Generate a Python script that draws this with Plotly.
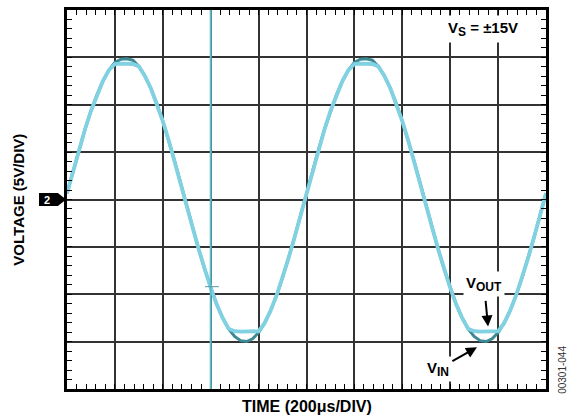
import plotly.graph_objects as go

# Scope capture: input and output of the amplifier, 200 us/div, 5 V/div
TIME_US = [
    0, 25, 50, 75, 100, 125, 150, 175, 200, 225, 250, 275, 300, 325, 350, 375,
    400, 425, 450, 475, 500, 525, 550, 575, 600, 625, 650, 675, 700, 725, 750, 775,
    800, 825, 850, 875, 900, 925, 950, 975, 1000, 1025, 1050, 1075, 1100, 1125,
    1150, 1175, 1200, 1225, 1250, 1275, 1300, 1325, 1350, 1375, 1400, 1425, 1450,
    1475, 1500, 1525, 1550, 1575, 1600, 1625, 1650, 1675, 1700, 1725, 1750, 1775,
    1800, 1825, 1850, 1875, 1900, 1925, 1950, 1975, 2000,
]

V_IN = [
    0.66, 3.00, 5.26, 7.39, 9.34, 11.06, 12.51, 13.65, 14.46, 14.80, 14.85, 14.70,
    14.05, 13.05, 11.74, 10.13, 8.27, 6.22, 4.00, 1.69, -0.66, -3.00, -5.26, -7.39,
    -9.34, -11.06, -12.51, -13.65, -14.46, -14.90, -14.99, -14.70, -14.05, -13.05,
    -11.74, -10.13, -8.27, -6.22, -4.00, -1.69, 0.66, 3.00, 5.26, 7.39, 9.34, 11.06,
    12.51, 13.65, 14.46, 14.80, 14.85, 14.70, 14.05, 13.05, 11.74, 10.13, 8.27, 6.22,
    4.00, 1.69, -0.66, -3.00, -5.26, -7.39, -9.34, -11.06, -12.51, -13.65, -14.46,
    -14.90, -14.99, -14.70, -14.05, -13.05, -11.74, -10.13, -8.27, -6.22, -4.00,
    -1.69, 0.66,
]

V_OUT = [
    0.66, 3.00, 5.26, 7.39, 9.34, 11.06, 12.51, 13.65, 14.30, 14.35, 14.35, 14.30,
    14.05, 13.05, 11.74, 10.13, 8.27, 6.22, 4.00, 1.69, -0.66, -3.00, -5.26, -7.39,
    -9.34, -11.06, -12.51, -13.65, -13.90, -13.95, -13.95, -13.90, -13.90, -13.05,
    -11.74, -10.13, -8.27, -6.22, -4.00, -1.69, 0.66, 3.00, 5.26, 7.39, 9.34, 11.06,
    12.51, 13.65, 14.30, 14.35, 14.35, 14.30, 14.05, 13.05, 11.74, 10.13, 8.27, 6.22,
    4.00, 1.69, -0.66, -3.00, -5.26, -7.39, -9.34, -11.06, -12.51, -13.65, -13.90,
    -13.95, -13.95, -13.90, -13.90, -13.05, -11.74, -10.13, -8.27, -6.22, -4.00,
    -1.69, 0.66,
]

FONT = "Liberation Sans, Arial, Helvetica, sans-serif"
GRID = "#333333"
TRACE_OUT = "#80d1e1"
TRACE_IN = "#3d8a94"
CURSOR = "#5fbccc"


def sub(text, size):
    """Subscript that keeps close to the body size, like the scope labels."""
    return f"<sub><span style='font-size:{size}px'>{text}</span></sub>"


fig = go.Figure()
fig.add_trace(go.Scatter(x=TIME_US, y=V_IN, mode="lines",
                         line=dict(color=TRACE_IN, width=3), name="V_IN"))
fig.add_trace(go.Scatter(x=TIME_US, y=V_OUT, mode="lines",
                         line=dict(color=TRACE_OUT, width=3.8), name="V_OUT"))

frame_axis = dict(
    showgrid=True, gridcolor=GRID, gridwidth=1.5,
    showline=True, linecolor="black", linewidth=2.5, mirror="allticks",
    ticks="inside", ticklen=5, tickwidth=1.2, tickcolor="black",
    showticklabels=False, zeroline=False, fixedrange=True,
)
# extra axes through the centre of the screen, for the crossing ticks
centre_axis = dict(
    anchor="free", position=0.5, showgrid=False, showline=False,
    zeroline=False, showticklabels=False, ticklen=3, tickwidth=1.2,
    tickcolor="black",
)

fig.update_layout(
    width=569, height=419,
    margin=dict(l=67, r=23, t=7, b=30),
    paper_bgcolor="white", plot_bgcolor="white",
    showlegend=False,
    font=dict(family=FONT, color="black"),
    xaxis=dict(range=[0, 2000], tick0=0, dtick=200,
               minor=dict(dtick=40, ticks="inside", ticklen=5, tickwidth=1.2,
                          tickcolor="black", showgrid=False),
               **frame_axis),
    yaxis=dict(range=[-20, 20], tick0=0, dtick=5,
               minor=dict(dtick=1, ticks="inside", ticklen=5, tickwidth=1.2,
                          tickcolor="black", showgrid=False),
               **frame_axis),
    xaxis2=dict(overlaying="x", range=[0, 2000], tick0=0, dtick=40,
                ticks="inside", **centre_axis),
    xaxis3=dict(overlaying="x", range=[0, 2000], tick0=0, dtick=40,
                ticks="outside", **centre_axis),
    yaxis2=dict(overlaying="y", range=[-20, 20], tick0=0, dtick=1,
                ticks="inside", **centre_axis),
    yaxis3=dict(overlaying="y", range=[-20, 20], tick0=0, dtick=1,
                ticks="outside", **centre_axis),
)

# cursor line and trigger mark
fig.add_shape(type="line", xref="x", yref="paper", x0=600, x1=600, y0=0, y1=1,
              line=dict(color=CURSOR, width=2))
fig.add_shape(type="line", xref="x", yref="y", x0=576, x1=634, y0=-9.2, y1=-9.2,
              line=dict(color="#5a9aa3", width=1))

# channel 2 ground marker
fig.add_shape(type="path", xref="paper", yref="paper",
              path="M -0.0585,0.483 L -0.0585,0.517 L -0.019,0.517 "
                   "L -0.002,0.5 L -0.019,0.483 Z",
              fillcolor="black", line=dict(color="black", width=0))
fig.add_annotation(x=-0.041, y=0.5, xref="paper", yref="paper", text="<b>2</b>",
                   xanchor="center", yanchor="middle", showarrow=False,
                   font=dict(size=11, color="white", family=FONT))

# labels
fig.add_annotation(x=1737, y=18.0, text=f"<b>V{sub('S', 12)} = ±15V</b>",
                   xanchor="center", yanchor="middle",
                   showarrow=False, bgcolor="white", borderpad=3,
                   font=dict(size=15, family=FONT))
# arrows point at the trace, label sits at the tail
fig.add_annotation(x=1758, y=-13.4, ax=-4, ay=-42,
                   text=f"<b>V{sub('OUT', 12)}</b>",
                   showarrow=True, arrowhead=2, arrowsize=1.1, arrowwidth=2,
                   arrowcolor="black", startstandoff=4,
                   bgcolor="white", borderpad=2,
                   font=dict(size=15, family=FONT))
fig.add_annotation(x=1712, y=-15.6, ax=-39, ay=22,
                   text=f"<b>V{sub('IN', 12)}</b>",
                   showarrow=True, arrowhead=2, arrowsize=1.1, arrowwidth=2,
                   arrowcolor="black", startstandoff=1,
                   bgcolor="white", borderpad=2,
                   font=dict(size=15, family=FONT))

# axis titles
fig.add_annotation(x=0.5, y=-0.047, xref="paper", yref="paper",
                   xanchor="center", yanchor="middle",
                   text="<b>TIME (200μs/DIV)</b>", showarrow=False,
                   font=dict(size=16, family=FONT))
fig.add_annotation(x=-0.102, y=0.5, xref="paper", yref="paper",
                   xanchor="center", yanchor="middle",
                   text="<b>VOLTAGE (5V/DIV)</b>", showarrow=False, textangle=-90,
                   font=dict(size=15, family=FONT))
fig.add_annotation(x=1.033, y=0.05, xref="paper", yref="paper",
                   xanchor="center", yanchor="middle",
                   text="00301-044", showarrow=False, textangle=-90,
                   font=dict(size=10, family=FONT, color="#333333"))

# drop the default page margin so the figure sits at the window origin
fig.write_html("out.html", config={"displayModeBar": False},
               post_script="document.body.style.margin = '0px';")
